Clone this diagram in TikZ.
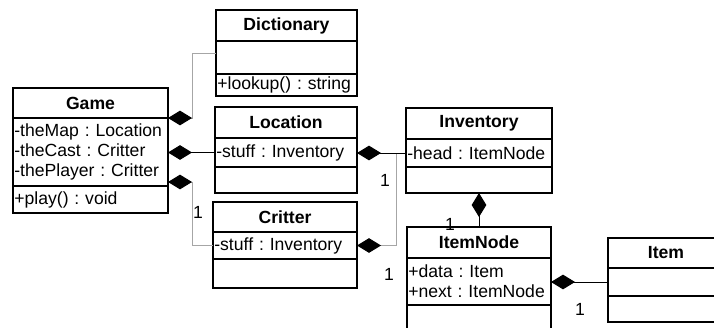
\documentclass[tikz,border=0pt]{standalone}
\usepackage{fontspec}
\setmainfont{Liberation Sans}
\usetikzlibrary{arrows.meta}
\frenchspacing

\tikzset{
  uml/.style={draw, line width=1.1pt, anchor=north west, outer sep=0pt, font=\fontsize{13.2pt}{15pt}\selectfont},
  head/.style 2 args={uml, inner sep=0pt, minimum width=#1, minimum height=#2, font=\fontsize{13.2pt}{15pt}\selectfont\bfseries},
  body/.style 2 args={uml, inner xsep=1pt, inner ysep=0pt, text width=#1, minimum height=#2, align=left},
  link/.style={line width=0.75pt, -{Diamond[color=black, fill=black, length=18pt, width=11pt]}},
  pale/.style={link, draw=gray!70},
  mult/.style={inner sep=0pt, font=\fontsize{13.2pt}{15pt}\selectfont},
}

\begin{document}
\begin{tikzpicture}[x=0.75pt,y=-0.75pt]
\useasboundingbox (0,0) rectangle (714,328);
\clip (0,0) rectangle (714,328);

\node[head={116.25pt}{22.5pt}] (game) at (13,88) {Game};
\node[body={114.25pt}{51pt}] (game-attr) at (game.south west) {-theMap : Location\\-theCast : Critter\\-thePlayer : Critter};
\node[body={114.25pt}{20.25pt}] (game-op) at (game-attr.south west) {+play() : void};

\node[head={105.75pt}{23.25pt}] (dict) at (216,10) {Dictionary};
\node[body={103.75pt}{24.75pt}] (dict-attr) at (dict.south west) {};
\node[body={103.75pt}{16.5pt}] (dict-op) at (dict-attr.south west) {+lookup() : string};

\node[head={106.5pt}{23.25pt}] (loc) at (215,107) {Location};
\node[body={104.5pt}{21.75pt}] (loc-attr) at (loc.south west) {-stuff : Inventory};
\node[body={104.5pt}{19.5pt}] (loc-op) at (loc-attr.south west) {};

\node[head={108pt}{22.5pt}] (crit) at (213,202) {Critter};
\node[body={106pt}{20.25pt}] (crit-attr) at (crit.south west) {-stuff : Inventory};
\node[body={106pt}{21.75pt}] (crit-op) at (crit-attr.south west) {};

\node[head={109.5pt}{23.25pt}] (inv) at (406,108) {Inventory};
\node[body={107.5pt}{21pt}] (inv-attr) at (inv.south west) {-head : ItemNode};
\node[body={107.5pt}{19.5pt}] (inv-op) at (inv-attr.south west) {};

\node[head={108pt}{23.25pt}] (itemnode) at (407,227) {ItemNode};
\node[body={106pt}{35.25pt}] (itemnode-attr) at (itemnode.south west) {+data : Item\\+next : ItemNode};
\node[body={106pt}{22.5pt}] (itemnode-op) at (itemnode-attr.south west) {};

\node[head={87pt}{22.5pt}] (item) at (608,238) {Item};
\node[body={85pt}{21pt}] (item-attr) at (item.south west) {};
\node[body={85pt}{19.5pt}] (item-op) at (item-attr.south west) {};

\draw[pale] ([yshift=3pt]dict-attr.west) -| ([xshift=18pt]game-attr.north east) -- (game-attr.north east);
\draw[link] (loc-attr.west) -- (loc-attr.west -| game-attr.east);
\draw[pale] (crit-attr.west) -| ([xshift=18pt,yshift=3pt]game-attr.south east) -- ([yshift=3pt]game-attr.south east);
\draw[pale] ([xshift=-7.5pt]inv-attr.west) |- (crit-attr.east);
\draw[link] (inv-attr.west) -- (inv-attr.west -| loc-attr.east);
\draw[link] (itemnode.north) -- (inv-op.south);
\draw[link] (item-attr.west) -- (item-attr.west -| itemnode-attr.east);

\node[mult] (m1) at (198,212) {1};
\node[mult] (m2) at (385,180) {1};
\node[mult] (m3) at (389,274) {1};
\node[mult] (m4) at (450,224) {1};
\node[mult] (m5) at (580,309) {1};
\end{tikzpicture}
\end{document}
